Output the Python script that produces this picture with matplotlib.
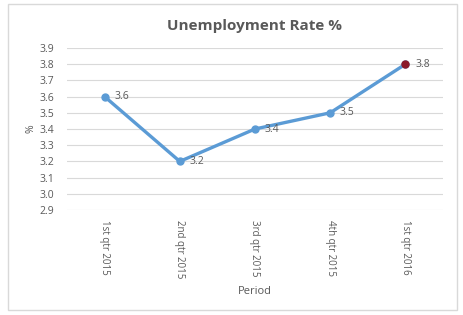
import matplotlib
matplotlib.use('Agg')
import matplotlib.pyplot as plt
from matplotlib.patches import Rectangle

periods = ['1st qtr 2015', '2nd qtr 2015', '3rd qtr 2015', '4th qtr 2015', '1st qtr 2016']
rates = [3.6, 3.2, 3.4, 3.5, 3.8]
yticks = [2.9, 3.0, 3.1, 3.2, 3.3, 3.4, 3.5, 3.6, 3.7, 3.8, 3.9]

plt.rcParams['font.family'] = ['Open Sans', 'DejaVu Sans']
txt = '#595959'
blue = '#5B9BD5'

fig = plt.figure(figsize=(4.64, 3.15), dpi=100)
fig.patches.append(Rectangle((8/464, 1-310/315), 449/464, 306/315, transform=fig.transFigure,
                             fill=False, edgecolor='#D9D9D9', linewidth=1))
ax = fig.add_axes([67/464, 1-210/315, 376/464, 162/315])

x = list(range(len(periods)))
ax.plot(x, rates, color=blue, linewidth=2.4, marker='o', markersize=5, zorder=3)
ax.plot(x[-1], rates[-1], marker='o', markersize=5, color='#8B1A2B', zorder=4)
for xi, v in zip(x, rates):
    ax.annotate(f'{v:.1f}', (xi, v), xytext=(7, 0), textcoords='offset points',
                va='center', ha='left', fontsize=7.5, color=txt)

ax.set_xlim(-0.5, len(periods) - 0.5)
ax.set_ylim(2.9, 3.9)
ax.set_yticks(yticks)
ax.set_yticklabels([f'{t:.1f}' for t in yticks])
ax.set_xticks(x)
ax.set_xticklabels(periods, rotation=-90)
ax.grid(axis='y', color='#D9D9D9', linewidth=0.8)
ax.set_axisbelow(True)
for s in ax.spines.values():
    s.set_visible(False)
ax.tick_params(length=0, labelsize=7.5, colors=txt, pad=7)
ax.tick_params(axis='x', labelsize=7)
ax.tick_params(axis='y', pad=9)

ax.set_title('Unemployment Rate %', fontsize=11, fontweight='bold', color=txt, pad=13)
ax.set_xlabel('Period', fontsize=8, color=txt, labelpad=6)
ax.set_ylabel('%', fontsize=7.5, color=txt, labelpad=2)

fig.savefig('out.png', dpi=100)
